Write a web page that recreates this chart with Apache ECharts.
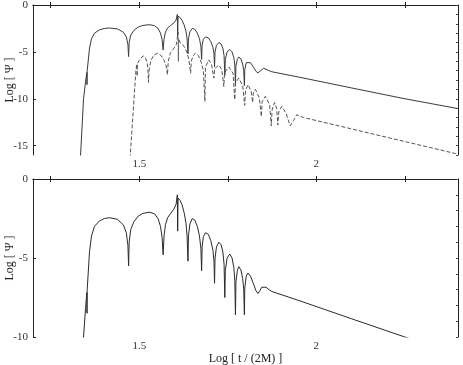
<!DOCTYPE html>
<html>
<head>
<meta charset="utf-8">
<script src="https://cdn.jsdelivr.net/npm/echarts@6/dist/echarts.min.js"></script>
<style>
  html, body { margin: 0; padding: 0; background: #fff; }
  #chart { width: 463px; height: 365px; }
</style>
</head>
<body>
<div id="chart"></div>
<script>
// solid curve (same in both panels): log t/(2M) and log |psi|
const solidT = [
  1.333, 1.3343, 1.3427, 1.3483, 1.352, 1.3525, 1.353, 1.3596, 1.3652, 1.3736, 1.3876, 1.4017, 1.4157, 1.4382, 1.4551, 1.4635, 1.468, 1.4699,
  1.4715, 1.476, 1.485, 1.497, 1.51, 1.528, 1.543, 1.553, 1.560, 1.5645, 1.5674,
  1.570, 1.574, 1.580, 1.588, 1.598, 1.604, 1.6076, 1.6085, 1.6095, 1.6152, 1.621, 1.6264, 1.632, 1.635, 1.6376,
  1.639, 1.643, 1.6497, 1.657, 1.664, 1.670, 1.674, 1.6761,
  1.6775, 1.681, 1.6874, 1.695, 1.702, 1.708, 1.711, 1.7126,
  1.714, 1.718, 1.7247, 1.731, 1.736, 1.7395, 1.7416,
  1.743, 1.748, 1.7556, 1.762, 1.767, 1.7698, 1.7716,
  1.773, 1.777, 1.7809, 1.787, 1.792, 1.795, 1.7969,
  1.798, 1.802, 1.807, 1.814, 1.822, 1.829, 1.8351, 1.841, 1.846, 1.8511, 1.858, 1.866, 1.8744, 1.9494, 2.10, 2.2472, 2.40
]
const solidPsi = [
  -17, -16, -10, -8.2, -7.2, -8.5, -7.0, -4.6, -3.6, -3.0, -2.65, -2.5, -2.45, -2.55, -2.9, -3.4, -4.2, -5.5,
  -4.0, -3.2, -2.7, -2.35, -2.18, -2.1, -2.2, -2.5, -3.0, -3.7, -4.8,
  -3.6, -2.9, -2.45, -2.2, -1.9, -1.6, -1.0, -3.3, -1.2, -1.35, -1.65, -2.1, -2.8, -3.6, -5.2,
  -3.6, -2.85, -2.5, -2.6, -3.0, -3.6, -4.4, -5.8,
  -4.3, -3.65, -3.4, -3.5, -3.9, -4.5, -5.2, -6.6,
  -5.0, -4.3, -4.0, -4.15, -4.6, -5.4, -7.5,
  -5.8, -5.0, -4.75, -5.0, -5.6, -6.4, -8.6,
  -6.5, -5.8, -5.55, -5.75, -6.3, -7.0, -8.6,
  -6.9, -6.15, -5.95, -6.15, -6.6, -7.05, -7.25, -7.05, -6.85, -6.75, -6.85, -7.0, -7.12, -7.68, -8.85, -9.98, -11.05
]
// dashed curve (top panel only)
const dashT = [
  1.474, 1.4747, 1.480, 1.486, 1.4907, 1.4935, 1.494, 1.4945, 1.500, 1.5048, 1.5112, 1.517, 1.522, 1.5245, 1.5261,
  1.528, 1.533, 1.541, 1.5514, 1.562, 1.570, 1.576, 1.5795,
  1.582, 1.588, 1.5983, 1.6050, 1.6096, 1.6105, 1.6115, 1.6152, 1.6264, 1.634, 1.640, 1.6452,
  1.647, 1.652, 1.6593, 1.667, 1.675, 1.681, 1.6854,
  1.687, 1.6966, 1.704, 1.7107,
  1.713, 1.7247, 1.733, 1.7388,
  1.741, 1.7528, 1.765, 1.7697,
  1.772, 1.7809, 1.792, 1.7978,
  1.800, 1.8070, 1.816, 1.8202,
  1.822, 1.8278, 1.839, 1.8447,
  1.847, 1.8559, 1.868, 1.8728,
  1.875, 1.8820, 1.888, 1.8913,
  1.894, 1.9025, 1.915, 1.9261, 1.936, 1.9447, 1.9635, 2.3933, 2.40
]
const dashPsi = [
  -17, -16, -13.0, -9.6, -6.9, -6.3, -7.6, -6.3, -5.9, -5.67, -5.43, -5.6, -6.1, -6.8, -8.26,
  -6.9, -5.9, -5.35, -5.14, -5.4, -5.9, -6.5, -7.45,
  -6.0, -5.1, -4.6, -4.2, -2.9, -6.0, -3.6, -4.0, -4.4, -5.0, -5.8, -7.27,
  -6.0, -5.4, -5.14, -5.4, -6.1, -7.0, -10.3,
  -6.6, -5.85, -6.3, -7.8,
  -6.8, -6.4, -6.9, -8.7,
  -7.2, -6.6, -7.3, -10.1,
  -8.3, -7.8, -8.6, -10.7,
  -9.1, -8.5, -9.2, -10.4,
  -9.4, -9.0, -9.9, -11.9,
  -10.3, -9.75, -10.6, -12.9,
  -11.2, -10.4, -11.0, -12.8,
  -11.4, -10.8, -11.6, -12.9, -12.3, -11.7, -12.0, -15.85, -15.9
]
const xTicks = [1.25, 1.5, 1.75, 2, 2.25]
const xLabels = [1.5, 2]
const yLabelsTop = [-15, -10, -5, 0]
const yLabelsBottom = [-10, -5, 0]

const font = 'Liberation Serif'
const zip = (a, b) => a.map((v, i) => [v, b[i]])
const range = (lo, hi) => { const r = []; for (let v = lo; v <= hi; v++) r.push(v); return r }

function xAxes (grid, withName) {
  const base = {
    type: 'value', gridIndex: grid, min: 1.2, max: 2.4,
    axisLine: { lineStyle: { color: '#222', width: 1 } },
    splitLine: { show: false }
  }
  return [
    Object.assign({}, base, {
      position: 'bottom',
      axisTick: { inside: true, length: 3, customValues: xTicks, lineStyle: { color: '#222' } },
      axisLabel: { customValues: xLabels, margin: 4, color: '#333', fontFamily: font, fontSize: 11 },
      name: withName ? 'Log [ t / (2M) ]' : '',
      nameLocation: 'middle',
      nameGap: 16,
      nameMoveOverlap: false,
      nameTextStyle: { color: '#222', fontFamily: font, fontSize: 12 }
    }),
    Object.assign({}, base, {
      position: 'top',
      axisTick: { inside: true, length: 3, customValues: xTicks, lineStyle: { color: '#222' } },
      axisLabel: { show: false }
    })
  ]
}

function yAxes (grid, min, labels) {
  const base = {
    type: 'value', gridIndex: grid, min: min, max: 0,
    axisLine: { lineStyle: { color: '#222', width: 1 } },
    splitLine: { show: false }
  }
  return [
    Object.assign({}, base, {
      position: 'left',
      axisTick: { inside: true, length: 3, customValues: labels, lineStyle: { color: '#222' } },
      axisLabel: { customValues: labels, margin: 5, color: '#333', fontFamily: font, fontSize: 11 },
      name: 'Log [ Ψ ]',
      nameLocation: 'middle',
      nameGap: 17,
      nameMoveOverlap: false,
      nameTextStyle: { color: '#222', fontFamily: font, fontSize: 12 }
    }),
    Object.assign({}, base, {
      position: 'right',
      axisTick: { inside: true, length: 2, customValues: range(min, 0), lineStyle: { color: '#444' } },
      axisLabel: { show: false }
    })
  ]
}

const chart = echarts.init(document.getElementById('chart'))
chart.setOption({
  animation: false,
  backgroundColor: '#fff',
  grid: [
    { left: 33, right: 5, top: 5, height: 150, outerBoundsMode: 'none', containLabel: false },
    { left: 33, right: 5, top: 179, height: 158, outerBoundsMode: 'none', containLabel: false }
  ],
  xAxis: xAxes(0, false).concat(xAxes(1, true)),
  yAxis: yAxes(0, -16, yLabelsTop).concat(yAxes(1, -10, yLabelsBottom)),
  series: [
    {
      type: 'line', xAxisIndex: 0, yAxisIndex: 0, symbol: 'none', clip: true,
      lineStyle: { color: '#3a3a3a', width: 1 },
      data: zip(solidT, solidPsi)
    },
    {
      type: 'line', xAxisIndex: 0, yAxisIndex: 0, symbol: 'none', clip: true,
      lineStyle: { color: '#555', width: 1, type: [4, 2] },
      data: zip(dashT, dashPsi)
    },
    {
      type: 'line', xAxisIndex: 2, yAxisIndex: 2, symbol: 'none', clip: true,
      lineStyle: { color: '#2a2a2a', width: 1 },
      data: zip(solidT, solidPsi)
    }
  ]
})
</script>
</body>
</html>
